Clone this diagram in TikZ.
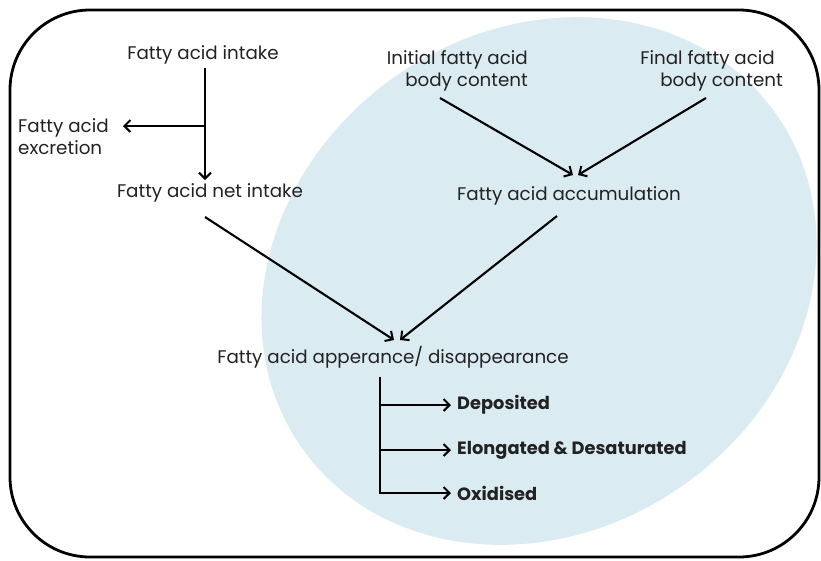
\documentclass[tikz,border=0pt]{standalone}
\usepackage{fontspec}
\setmainfont{Poppins}
\usetikzlibrary{arrows.meta}
\definecolor{ellfill}{HTML}{DAEBF2}
\definecolor{txtc}{HTML}{222222}
\begin{document}
\begin{tikzpicture}[x=1pt,y=-1pt,
  txt/.style={inner sep=0pt, text=txtc, font=\fontsize{18.3}{22}\selectfont},
  btxt/.style={txt, font=\fontsize{17.8}{22}\selectfont\bfseries},
  arr/.style={line width=2.1pt, -{Straight Barb[length=6pt,width=12pt,line width=2pt]}},
  ln/.style={line width=2.1pt}]
\useasboundingbox (0,0) rectangle (821,560);
\fill[ellfill, rotate around={35:(539,281)}] (539,281) ellipse [x radius=290, y radius=250];
\draw[line width=2.8pt, rounded corners=80pt] (10,10) rectangle (819,557);

\node[txt] (intake) at (203,55) {Fatty acid intake};
\node[txt, align=left, anchor=west] (excr) at (18,137) {Fatty acid\\excretion};
\node[txt] (net) at (210,193) {Fatty acid net intake};
\node[txt, align=right, anchor=east] (init) at (528,71) {Initial fatty acid\\body content};
\node[txt, align=right, anchor=east] (final) at (783,71) {Final fatty acid\hspace*{8pt}\\body content};
\node[txt] (accum) at (569,196) {Fatty acid accumulation};
\node[txt] (appear) at (393,357) {Fatty acid apperance/ disappearance};
\node[btxt, anchor=west] (dep) at (457,405) {Deposited};
\node[btxt, anchor=west] (elo) at (457,450) {Elongated \& Desaturated};
\node[btxt, anchor=west] (oxi) at (457,493) {Oxidised};

% connector end points
\coordinate (intakeOut) at (205,68);
\coordinate (netIn) at (205,180);
\coordinate (j1) at (205,126);
\coordinate (excrIn) at (123,126);
\coordinate (initOut) at (440,98);
\coordinate (finalOut) at (706,98);
\coordinate (accIn1) at (573,175);
\coordinate (accIn2) at (578,175);
\coordinate (netOut) at (205,217);
\coordinate (accOut) at (557,216);
\coordinate (appIn1) at (394,340);
\coordinate (appIn2) at (400,340);
\coordinate (j2) at (380,378);
\coordinate (j3) at (380,405);
\coordinate (j4) at (380,450);
\coordinate (j5) at (380,493);
\coordinate (depIn) at (451,405);
\coordinate (eloIn) at (451,450);
\coordinate (oxiIn) at (451,493);

\draw[arr] (intakeOut) -- (netIn);
\draw[arr] (j1) -- (excrIn);
\draw[arr] (initOut) -- (accIn1);
\draw[arr] (finalOut) -- (accIn2);
\draw[arr] (netOut) -- (appIn1);
\draw[arr] (accOut) -- (appIn2);
\draw[ln, line cap=rect] (j2) -- (j5);
\draw[arr] (j3) -- (depIn);
\draw[arr] (j4) -- (eloIn);
\draw[arr] (j5) -- (oxiIn);
\end{tikzpicture}
\end{document}
